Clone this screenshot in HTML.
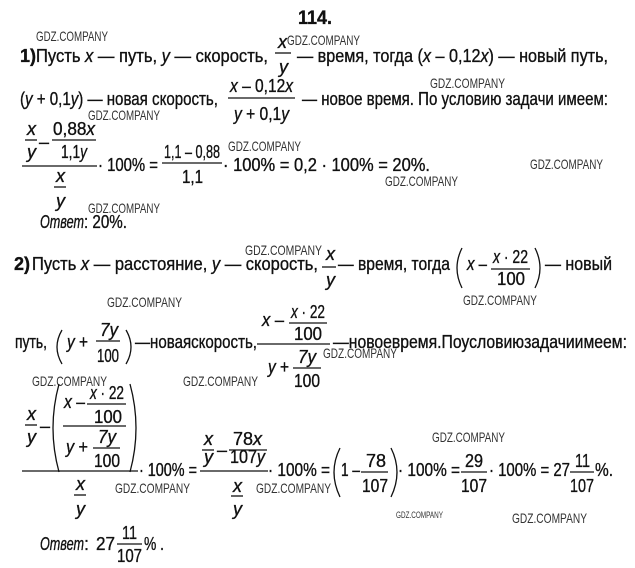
<!DOCTYPE html>
<html><head><meta charset="utf-8"><style>
html,body{margin:0;padding:0;background:#fff;}
svg{display:block}
text{font-family:"Liberation Sans Narrow","Liberation Sans","DejaVu Sans",sans-serif;font-size:18px;fill:#111;stroke:#111;stroke-width:0.35;}
.i{font-style:italic}
.b{font-weight:bold}
.w{font-size:14px;fill:#333;stroke:none;}
line{stroke:#111;stroke-width:1.3}
path{stroke:#111;stroke-width:1.3;fill:none}
</style></head><body>
<svg width="635" height="568" viewBox="0 0 635 568" xmlns="http://www.w3.org/2000/svg">
<text x="298" y="24" class="b" style="font-size:19px" textLength="34" lengthAdjust="spacingAndGlyphs">114.</text>

<g>
<text class="w" x="36" y="41" textLength="72" lengthAdjust="spacingAndGlyphs">GDZ.COMPANY</text>
<text class="w" x="287" y="45" textLength="73" lengthAdjust="spacingAndGlyphs">GDZ.COMPANY</text>
<text class="w" x="430" y="88" textLength="75" lengthAdjust="spacingAndGlyphs">GDZ.COMPANY</text>
<text class="w" x="88" y="120" textLength="72" lengthAdjust="spacingAndGlyphs">GDZ.COMPANY</text>
<text class="w" x="228" y="151" textLength="73" lengthAdjust="spacingAndGlyphs">GDZ.COMPANY</text>
<text class="w" x="530" y="169" textLength="73" lengthAdjust="spacingAndGlyphs">GDZ.COMPANY</text>
<text class="w" x="385" y="186" textLength="73" lengthAdjust="spacingAndGlyphs">GDZ.COMPANY</text>
<text class="w" x="88" y="213" textLength="72" lengthAdjust="spacingAndGlyphs">GDZ.COMPANY</text>
<text class="w" x="245" y="255" textLength="77" lengthAdjust="spacingAndGlyphs">GDZ.COMPANY</text>
<text class="w" x="107" y="307" textLength="75" lengthAdjust="spacingAndGlyphs">GDZ.COMPANY</text>
<text class="w" x="463" y="305" textLength="74" lengthAdjust="spacingAndGlyphs">GDZ.COMPANY</text>
<text class="w" x="323" y="358" textLength="74" lengthAdjust="spacingAndGlyphs">GDZ.COMPANY</text>
<text class="w" x="32" y="386" textLength="75" lengthAdjust="spacingAndGlyphs">GDZ.COMPANY</text>
<text class="w" x="183" y="386" textLength="75" lengthAdjust="spacingAndGlyphs">GDZ.COMPANY</text>
<text class="w" x="432" y="442" textLength="73" lengthAdjust="spacingAndGlyphs">GDZ.COMPANY</text>
<text class="w" x="115" y="493" textLength="75" lengthAdjust="spacingAndGlyphs">GDZ.COMPANY</text>
<text class="w" x="256" y="493" textLength="75" lengthAdjust="spacingAndGlyphs">GDZ.COMPANY</text>
<text class="w" x="396" y="518" style="font-size:9px" textLength="47" lengthAdjust="spacingAndGlyphs">GDZ.COMPANY</text>
<text class="w" x="512" y="523" textLength="75" lengthAdjust="spacingAndGlyphs">GDZ.COMPANY</text>
</g>

<text x="20" y="62" class="b">1)</text>
<text x="36" y="62" textLength="232" lengthAdjust="spacingAndGlyphs">Пусть <tspan class="i">x</tspan> — путь, <tspan class="i">y</tspan> — скорость,</text>
<text x="278" y="48" class="i">x</text>
<line x1="275" y1="53" x2="291" y2="53"/>
<text x="279" y="73" class="i">y</text>
<text x="297" y="62" textLength="311" lengthAdjust="spacingAndGlyphs">— время, тогда (<tspan class="i">x</tspan> – 0,12<tspan class="i">x</tspan>) — новый путь,</text>

<text x="20" y="105" textLength="198" lengthAdjust="spacingAndGlyphs">(<tspan class="i">y</tspan> + 0,1<tspan class="i">y</tspan>) — новая скорость,</text>
<text x="230" y="92" textLength="63" lengthAdjust="spacingAndGlyphs"><tspan class="i">x</tspan> – 0,12<tspan class="i">x</tspan></text>
<line x1="228" y1="98" x2="295" y2="98"/>
<text x="234" y="120" textLength="55" lengthAdjust="spacingAndGlyphs"><tspan class="i">y</tspan> + 0,1<tspan class="i">y</tspan></text>
<text x="302" y="105" textLength="306" lengthAdjust="spacingAndGlyphs">— новое время. По условию задачи имеем:</text>

<text x="27" y="135" class="i">x</text>
<line x1="25" y1="140" x2="37" y2="140"/>
<text x="27" y="158" class="i">y</text>
<text x="39" y="148">–</text>
<text x="53" y="135" textLength="42" lengthAdjust="spacingAndGlyphs">0,88<tspan class="i">x</tspan></text>
<line x1="52" y1="140" x2="96" y2="140"/>
<text x="61" y="158" textLength="26" lengthAdjust="spacingAndGlyphs">1,1<tspan class="i">y</tspan></text>
<line x1="22" y1="166" x2="97" y2="166"/>
<text x="56" y="182" class="i">x</text>
<line x1="54" y1="187" x2="66" y2="187"/>
<text x="56" y="207" class="i">y</text>
<text x="98" y="171" textLength="60" lengthAdjust="spacingAndGlyphs">· 100% =</text>
<text x="164" y="158" textLength="56" lengthAdjust="spacingAndGlyphs">1,1 – 0,88</text>
<line x1="162" y1="163" x2="222" y2="163"/>
<text x="182" y="183" textLength="21" lengthAdjust="spacingAndGlyphs">1,1</text>
<text x="223" y="171" textLength="207" lengthAdjust="spacingAndGlyphs">· 100% = 0,2 · 100% = 20%.</text>
<text x="40" y="228" class="i" textLength="44" lengthAdjust="spacingAndGlyphs">Ответ</text>
<text x="84" y="228" textLength="43" lengthAdjust="spacingAndGlyphs">: 20%.</text>

<text x="14" y="270" class="b">2)</text>
<text x="32" y="270" textLength="286" lengthAdjust="spacingAndGlyphs">Пусть <tspan class="i">x</tspan> — расстояние, <tspan class="i">y</tspan> — скорость,</text>
<text x="326" y="260" class="i">x</text>
<line x1="322" y1="267" x2="336" y2="267"/>
<text x="326" y="286" class="i">y</text>
<text x="338" y="270" textLength="112" lengthAdjust="spacingAndGlyphs">— время, тогда</text>
<path d="M462 248 Q452 268 462 288"/>
<text x="467" y="270" textLength="20" lengthAdjust="spacingAndGlyphs"><tspan class="i">x</tspan> –</text>
<text x="493" y="263" textLength="35" lengthAdjust="spacingAndGlyphs"><tspan class="i">x</tspan> · 22</text>
<line x1="491" y1="269" x2="530" y2="269"/>
<text x="497" y="285" textLength="28" lengthAdjust="spacingAndGlyphs">100</text>
<path d="M535 248 Q545 268 535 288"/>
<text x="545" y="270" textLength="67" lengthAdjust="spacingAndGlyphs">— новый</text>

<text x="15" y="348" textLength="32" lengthAdjust="spacingAndGlyphs">путь,</text>
<path d="M62 330 Q52 347 62 364"/>
<text x="67" y="348" textLength="21" lengthAdjust="spacingAndGlyphs"><tspan class="i">y</tspan> +</text>
<text x="100" y="336" class="i" textLength="18" lengthAdjust="spacingAndGlyphs">7y</text>
<line x1="96" y1="341" x2="120" y2="341"/>
<text x="97" y="362" textLength="22" lengthAdjust="spacingAndGlyphs">100</text>
<path d="M126 330 Q136 347 126 364"/>
<text x="135" y="348" textLength="122" lengthAdjust="spacingAndGlyphs">—новаяскорость,</text>
<text x="262" y="326" textLength="22" lengthAdjust="spacingAndGlyphs"><tspan class="i">x</tspan> –</text>
<text x="291" y="318" textLength="34" lengthAdjust="spacingAndGlyphs"><tspan class="i">x</tspan> · 22</text>
<line x1="289" y1="323" x2="327" y2="323"/>
<text x="294" y="340" textLength="28" lengthAdjust="spacingAndGlyphs">100</text>
<line x1="257" y1="344" x2="330" y2="344"/>
<text x="268" y="373" textLength="21" lengthAdjust="spacingAndGlyphs"><tspan class="i">y</tspan> +</text>
<text x="298" y="363" class="i" textLength="18" lengthAdjust="spacingAndGlyphs">7y</text>
<line x1="293" y1="368" x2="321" y2="368"/>
<text x="294" y="387" textLength="26" lengthAdjust="spacingAndGlyphs">100</text>
<text x="333" y="348" textLength="294" lengthAdjust="spacingAndGlyphs">—новоевремя.Поусловиюзадачиимеем:</text>

<text x="27" y="420" class="i">x</text>
<line x1="25" y1="425" x2="37" y2="425"/>
<text x="27" y="443" class="i">y</text>
<text x="40" y="432">–</text>
<path d="M59 384 Q47 428 59 472"/>
<text x="64" y="408" textLength="21" lengthAdjust="spacingAndGlyphs"><tspan class="i">x</tspan> –</text>
<text x="90" y="399" textLength="34" lengthAdjust="spacingAndGlyphs"><tspan class="i">x</tspan> · 22</text>
<line x1="87" y1="404" x2="126" y2="404"/>
<text x="94" y="423" textLength="28" lengthAdjust="spacingAndGlyphs">100</text>
<line x1="63" y1="426" x2="126" y2="426"/>
<text x="66" y="453" textLength="22" lengthAdjust="spacingAndGlyphs"><tspan class="i">y</tspan> +</text>
<text x="98" y="443" class="i" textLength="18" lengthAdjust="spacingAndGlyphs">7y</text>
<line x1="93" y1="448" x2="120" y2="448"/>
<text x="94" y="467" textLength="26" lengthAdjust="spacingAndGlyphs">100</text>
<path d="M130 384 Q142 428 130 472"/>
<line x1="22" y1="471" x2="138" y2="471"/>
<text x="76" y="490" class="i">x</text>
<line x1="74" y1="495" x2="86" y2="495"/>
<text x="76" y="515" class="i">y</text>
<text x="139" y="476" textLength="58" lengthAdjust="spacingAndGlyphs">· 100% =</text>
<text x="204" y="445" class="i">x</text>
<line x1="202" y1="450" x2="214" y2="450"/>
<text x="204" y="463" class="i">y</text>
<text x="217" y="456">–</text>
<text x="233" y="445" textLength="29" lengthAdjust="spacingAndGlyphs">78<tspan class="i">x</tspan></text>
<line x1="229" y1="450" x2="267" y2="450"/>
<text x="230" y="463" textLength="35" lengthAdjust="spacingAndGlyphs">107<tspan class="i">y</tspan></text>
<line x1="200" y1="471" x2="268" y2="471"/>
<text x="233" y="492" class="i">x</text>
<line x1="231" y1="496" x2="243" y2="496"/>
<text x="233" y="515" class="i">y</text>
<text x="268" y="476" textLength="62" lengthAdjust="spacingAndGlyphs">· 100% =</text>
<path d="M340 448 Q328 472 340 497"/>
<text x="341" y="476" textLength="19" lengthAdjust="spacingAndGlyphs">1 –</text>
<text x="366" y="467" textLength="20" lengthAdjust="spacingAndGlyphs">78</text>
<line x1="361" y1="472" x2="388" y2="472"/>
<text x="362" y="492" textLength="26" lengthAdjust="spacingAndGlyphs">107</text>
<path d="M391 448 Q403 472 391 497"/>
<text x="398" y="476" textLength="62" lengthAdjust="spacingAndGlyphs">· 100% =</text>
<text x="465" y="467" textLength="18" lengthAdjust="spacingAndGlyphs">29</text>
<line x1="461" y1="472" x2="487" y2="472"/>
<text x="461" y="492" textLength="26" lengthAdjust="spacingAndGlyphs">107</text>
<text x="489" y="476" textLength="81" lengthAdjust="spacingAndGlyphs">· 100% = 27</text>
<text x="575" y="467" textLength="15" lengthAdjust="spacingAndGlyphs">11</text>
<line x1="570" y1="472" x2="594" y2="472"/>
<text x="570" y="492" textLength="24" lengthAdjust="spacingAndGlyphs">107</text>
<text x="595" y="476" textLength="18" lengthAdjust="spacingAndGlyphs">%.</text>

<text x="40" y="550" class="i" textLength="44" lengthAdjust="spacingAndGlyphs">Ответ</text>
<text x="84" y="550">:</text>
<text x="96" y="550" textLength="19" lengthAdjust="spacingAndGlyphs">27</text>
<text x="122" y="539" textLength="15" lengthAdjust="spacingAndGlyphs">11</text>
<line x1="117" y1="544" x2="142" y2="544"/>
<text x="117" y="562" textLength="25" lengthAdjust="spacingAndGlyphs">107</text>
<text x="144" y="550" textLength="20" lengthAdjust="spacingAndGlyphs">% .</text>
</svg>
</body></html>
